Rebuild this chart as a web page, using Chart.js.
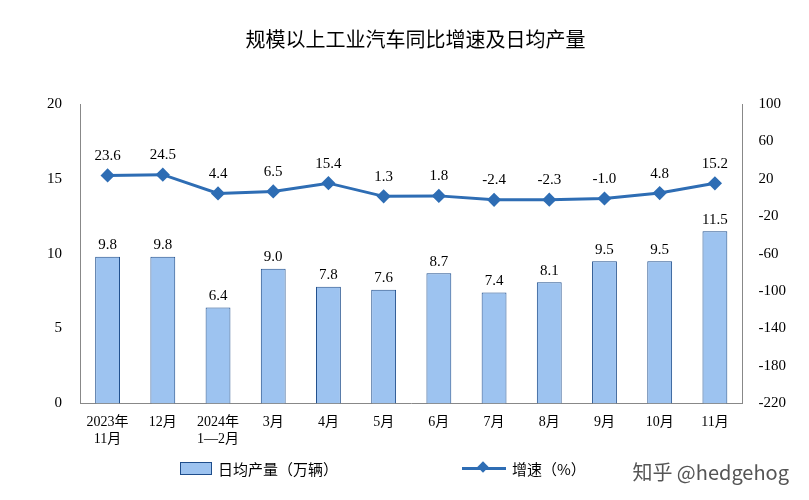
<!DOCTYPE html>
<html><head><meta charset="utf-8">
<script src="https://cdn.jsdelivr.net/npm/chart.js@4"></script>
<style>
body{margin:0;background:#fff;}
#wrap{position:relative;width:809px;height:500px;}
#mark{position:absolute;right:20px;bottom:14px;font:20px "Noto Sans CJK SC";color:#555;}
.lg{position:absolute;top:458px;font:15px "Noto Sans CJK SC";color:#000;display:flex;align-items:center;}
.bx{width:30px;height:11px;background:#9DC3F0;border:1px solid #1F4E8C;margin-right:6px;}
.ln{position:relative;width:44px;height:3px;background:#2E6DB4;margin-right:6px;}
.ln i{position:absolute;left:17px;top:-4px;width:8px;height:8px;background:#2E6DB4;transform:rotate(45deg);}
</style></head>
<body><div id="wrap"><canvas id="chart" width="809" height="500"></canvas>
<div class="lg" style="left:180px"><span class="bx"></span>日均产量（万辆）</div>
<div class="lg" style="left:462px"><span class="ln"><i></i></span>增速（%）</div>
<div id="mark">知乎 @hedgehog</div></div>
<script>
const categories = [["2023年","11月"],"12月",["2024年","1—2月"],"3月","4月","5月","6月","7月","8月","9月","10月","11月"];
const dailyOutput = [9.8, 9.8, 6.4, 9.0, 7.8, 7.6, 8.7, 7.4, 8.1, 9.5, 9.5, 11.5];
const growth = [23.6, 24.5, 4.4, 6.5, 15.4, 1.3, 1.8, -2.4, -2.3, -1.0, 4.8, 15.2];

const serif = "'Liberation Serif', 'Noto Sans CJK SC'";
const labelPlugin = {
  id: 'labels',
  afterDatasetsDraw(chart) {
    const ctx = chart.ctx;
    ctx.save();
    ctx.font = "15px " + serif;
    ctx.fillStyle = '#000';
    ctx.textAlign = 'center';
    ctx.textBaseline = 'bottom';
    chart.getDatasetMeta(0).data.forEach((el, i) => ctx.fillText(dailyOutput[i].toFixed(1), el.x, el.y - 4));
    chart.getDatasetMeta(1).data.forEach((el, i) => ctx.fillText(growth[i].toFixed(1), el.x, el.y - 12));
    ctx.restore();
  }
};

const ctx = document.getElementById('chart').getContext('2d');
new Chart(ctx, {
  type: 'bar',
  data: {
    labels: categories,
    datasets: [{
      label: '日均产量（万辆）',
      data: dailyOutput,
      backgroundColor: '#9DC3F0',
      borderColor: '#1F4E8C',
      borderWidth: 1,
      barPercentage: 0.45,
      categoryPercentage: 1,
      yAxisID: 'y',
      order: 2
    }, {
      type: 'line',
      label: '增速（%）',
      data: growth,
      borderColor: '#2E6DB4',
      backgroundColor: '#2E6DB4',
      borderWidth: 3,
      pointStyle: 'rectRot',
      pointRadius: 5,
      yAxisID: 'y1',
      order: 1
    }]
  },
  options: {
    responsive: false,
    animation: false,
    layout: { padding: { left: 37, right: 15, top: 0, bottom: 49 } },
    plugins: {
      title: { display: true, text: '规模以上工业汽车同比增速及日均产量', color: '#000',
        font: { family: "'Noto Sans CJK SC'", size: 20, weight: 'normal' }, padding: { top: 27, bottom: 53 } },
      legend: { display: false },
      tooltip: { enabled: false }
    },
    scales: {
      x: { grid: { display: false }, border: { color: '#888' },
        ticks: { color: '#000', font: { family: serif, size: 14 } } },
      y: { position: 'left', min: 0, max: 20, grid: { display: false }, border: { color: '#888' },
        ticks: { stepSize: 5, color: '#000', padding: 10, font: { family: serif, size: 15 } } },
      y1: { position: 'right', min: -220, max: 100, grid: { display: false }, border: { color: '#888' },
        ticks: { stepSize: 40, color: '#000', padding: 8, font: { family: serif, size: 15 } } }
    }
  },
  plugins: [labelPlugin]
});
</script></body></html>
